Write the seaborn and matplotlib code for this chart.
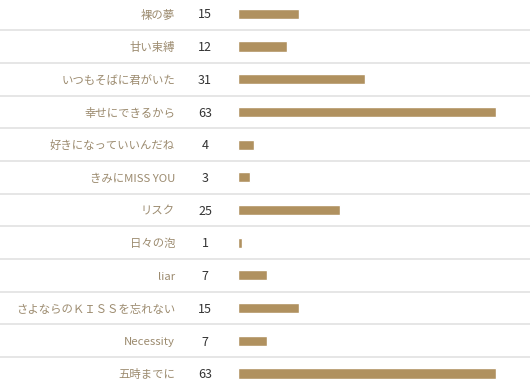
import matplotlib
matplotlib.use("Agg")
import matplotlib.pyplot as plt
import matplotlib.transforms as mtransforms
import seaborn as sns
import pandas as pd

songs = ["裸の夢", "甘い束縛", "いつもそばに君がいた", "幸せにできるから", "好きになっていいんだね",
         "きみにMISS YOU", "リスク", "日々の泡", "liar", "さよならのＫＩＳＳを忘れない",
         "Necessity", "五時までに"]
votes = [15, 12, 31, 63, 4, 3, 25, 1, 7, 15, 7, 63]

sns.set_theme(style="white")
plt.rcParams['font.family'] = ['Noto Sans CJK JP', 'DejaVu Sans']

W, H = 530, 387
fig = plt.figure(figsize=(W / 100, H / 100), dpi=100)
ax_left = 238 / W
ax = fig.add_axes([ax_left, 0, 1 - ax_left, 1])

df = pd.DataFrame({"song": songs, "votes": votes})
sns.barplot(data=df, x="votes", y="song", orient="h", color="#b0915f",
            saturation=1, width=0.31, ax=ax)

n = len(songs)
row_h = 32.7
y0 = 13.8
ax.set_ylim((H - y0) / row_h, -y0 / row_h)
ax.set_xlim(0, 63 * (W - 238) / 258)
ax.set_axis_off()

trans = mtransforms.blended_transform_factory(ax.transAxes, ax.transData)
xl = -ax_left / (1 - ax_left)
for i in range(n - 1):
    ax.plot([xl, 1], [i + 0.5, i + 0.5], transform=trans, color="#e2e2e2",
            lw=1.2, clip_on=False, zorder=0)

lab_x = (175 - 238) / (W - 238)
num_x = (205 - 238) / (W - 238)
dy = 1.2 / row_h
for i, (s, v) in enumerate(zip(songs, votes)):
    ax.text(lab_x, i + dy, s, transform=trans, ha="right", va="center",
            fontsize=8.2, color="#9c8b6f", clip_on=False)
    ax.text(num_x, i + dy, str(v), transform=trans, ha="center", va="center",
            fontsize=9, color="#333333", clip_on=False)

fig.savefig("out.png", dpi=100, facecolor="white")
